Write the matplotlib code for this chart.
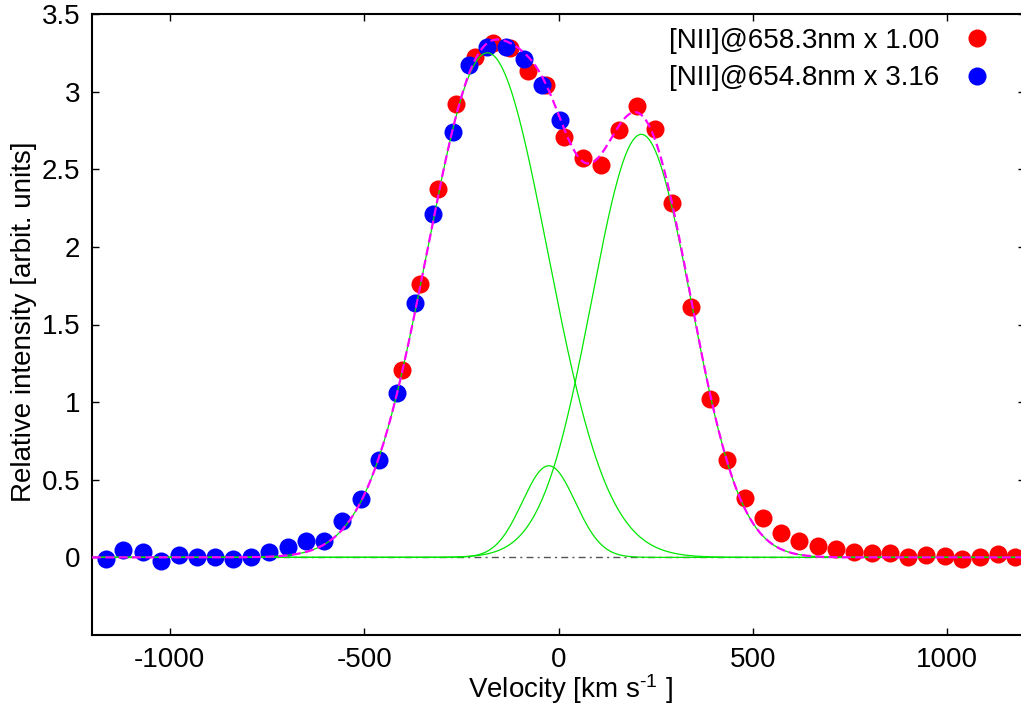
import numpy as np
import matplotlib
matplotlib.use('Agg')
import matplotlib.pyplot as plt

plt.rcParams['font.family'] = ['Liberation Sans', 'DejaVu Sans']
plt.rcParams['mathtext.fontset'] = 'custom'
plt.rcParams['mathtext.rm'] = 'Liberation Sans'
plt.rcParams['mathtext.default'] = 'regular'

# [NII] 658.3 nm line (scaled x 1.00)
red_v = [-402, -356, -311, -263, -216, -169, -126, -79, -32, 15, 63, 110, 155,
         202, 247, 293, 342, 389, 434, 480, 526, 573, 618, 667, 713, 759, 806,
         852, 899, 946, 993, 1037, 1083, 1130, 1174]
red_y = [1.21, 1.76, 2.37, 2.92, 3.22, 3.31, 3.28, 3.13, 3.04, 2.71, 2.57, 2.53,
         2.75, 2.91, 2.76, 2.28, 1.615, 1.02, 0.63, 0.38, 0.256, 0.155, 0.105,
         0.075, 0.054, 0.037, 0.026, 0.026, 0.0, 0.015, 0.009, -0.012, 0.0,
         0.022, 0.005]

# [NII] 654.8 nm line (scaled x 3.16)
blue_v = [-1165, -1119, -1069, -1022, -976, -931, -883, -837, -791, -745, -696,
          -650, -604, -558, -509, -463, -416, -370, -322, -272, -231, -184,
          -135, -89, -42, 3]
blue_y = [-0.01, 0.047, 0.032, -0.022, 0.017, 0.004, 0.004, -0.011, 0.004,
          0.032, 0.065, 0.108, 0.108, 0.237, 0.376, 0.63, 1.06, 1.64, 2.21,
          2.74, 3.17, 3.29, 3.29, 3.21, 3.04, 2.82]

# fitted gaussian components (amplitude, centre, sigma)
comp_amp = [3.25, 0.59, 2.725]
comp_cen = [-183, -25, 213]
comp_sig = [155, 68, 128]

labels = ['[NII]@658.3nm x 1.00', '[NII]@654.8nm x 3.16']
xticks = [-1000, -500, 0, 500, 1000]
xticklabels = ['-1000', '-500', '0', '500', '1000']
yticks = [0, 0.5, 1, 1.5, 2, 2.5, 3, 3.5]
yticklabels = ['0', '0.5', '1', '1.5', '2', '2.5', '3', '3.5']

fig = plt.figure(figsize=(10.21, 7.06), dpi=100)
ax = fig.add_axes([92/1021, 71/706, 933/1021, 621/706])

ax.axhline(0, color='#555555', lw=1.0, ls=(0, (5, 3, 1.5, 3)), zorder=1)

r, = ax.plot(red_v, red_y, 'o', color='#ff0000', ms=13, mec='none', zorder=2)
b, = ax.plot(blue_v, blue_y, 'o', color='#0000ff', ms=13, mec='none', zorder=3)

v = np.linspace(-1200, 1200, 1201)
total = np.zeros_like(v)
for a, c, s in zip(comp_amp, comp_cen, comp_sig):
    g = a * np.exp(-(v - c)**2 / (2 * s**2))
    total += g
    ax.plot(v, g, color='#00e600', lw=0.9, zorder=4)
ax.plot(v, total, color='#ff00ff', lw=1.6, dashes=(4, 2), zorder=5)

ax.set_xlim(-1200, 1200)
ax.set_ylim(-0.5, 3.5)
ax.set_xticks(xticks)
ax.set_xticklabels(xticklabels)
ax.set_yticks(yticks)
ax.set_yticklabels(yticklabels)
ax.tick_params(direction='in', length=5, width=1, top=True, right=True,
               labelsize=20, pad=8.5)
for sp in ax.spines.values():
    sp.set_linewidth(1.5)

ax.set_xlabel(r'Velocity [km s$^{\text{-1}}$ ]', fontsize=20, va='top')
ax.xaxis.set_label_coords((570 - 92) / 933, -0.060)
ax.set_ylabel('Relative intensity [arbit. units]', fontsize=20)
ax.yaxis.set_label_coords((37 - 92) / 933, (635 - 321.5) / 621)

ax.legend([r, b], labels, loc='upper right',
          bbox_to_anchor=(991/1021, (706 - 28)/706), bbox_transform=fig.transFigure,
          frameon=False, markerfirst=False, handlelength=1.0, handletextpad=0.86,
          labelspacing=0.41, borderpad=0, borderaxespad=0, fontsize=20)

fig.savefig('out.png', dpi=100)
